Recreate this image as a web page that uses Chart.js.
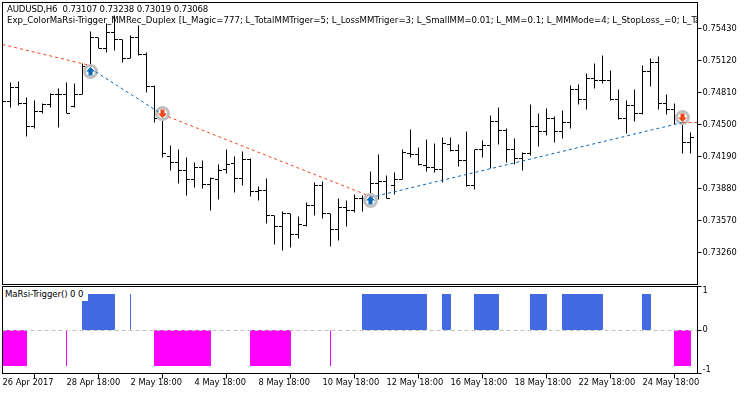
<!DOCTYPE html>
<html>
<head>
<meta charset="utf-8">
<script src="https://cdn.jsdelivr.net/npm/chart.js@4"></script>
<style>
  body {margin: 0; background: #fff; width: 750px; height: 394px; overflow: hidden; position: relative;}
  canvas {display: block;}
  .note {position: absolute; font: 9.55px/12px "DejaVu Sans Condensed", "DejaVu Sans", sans-serif; color: #000; white-space: pre; overflow: hidden;}
</style>
</head>
<body>
<canvas id="price" width="750" height="285"></canvas>
<canvas id="signal" width="750" height="109"></canvas>
<div class="note" style="left:7px;top:3px;width:690px;letter-spacing:-0.15px">AUDUSD,H6  0.73107 0.73238 0.73019 0.73068</div>
<div class="note" style="left:7px;top:14px;width:690px">Exp_ColorMaRsi-Trigger_MMRec_Duplex [L_Magic=777; L_TotalMMTriger=5; L_LossMMTriger=3; L_SmallMM=0.01; L_MM=0.1; L_MMMode=4; L_StopLoss_=0; L_TakeProfit_=0</div>
<div class="note" style="left:3px;top:288px;width:83px;height:13px;padding-left:2px;background:#fff;letter-spacing:-0.1px">MaRsi-Trigger() 0 0</div>
<script>
// H6 bars, one per array slot
const highs = [.74781,.74907,.74917,.74761,.74732,.74703,.74800,.74849,.74907,.74897,.75091,.75401,.75343,.75478,.75556,.75323,.75362,.75459,.75197,.74878,.74616,.74297,.74258,.74180,.74132,.74151,.73987,.74113,.74258,.74190,.74239,.74171,.73900,.73977,.73619,.73657,.73638,.73609,.73745,.73938,.73948,.73638,.73783,.73764,.73822,.73812,.74045,.74210,.74006,.74035,.74258,.74452,.74277,.74355,.74316,.74374,.74374,.74306,.74432,.74258,.74345,.74587,.74665,.74461,.74365,.74229,.74694,.74607,.74655,.74578,.74636,.74878,.74887,.74994,.75091,.75168,.75023,.74839,.74732,.74839,.75071,.75139,.75159,.74791,.74703,.74616,.74423];
const lows = [.74655,.74665,.74684,.74384,.74461,.74607,.74665,.74471,.74607,.74665,.74791,.75023,.75236,.75197,.75217,.75101,.75139,.75168,.74810,.74519,.74180,.74055,.73929,.73812,.73890,.73880,.73667,.73774,.74026,.73841,.73909,.73803,.73764,.73541,.73338,.73280,.73309,.73396,.73512,.73619,.73590,.73319,.73377,.73512,.73648,.73657,.73735,.73774,.73783,.73822,.73967,.74180,.74103,.74045,.74035,.73938,.74239,.74093,.73900,.73870,.74180,.74074,.74306,.74132,.74113,.74055,.74200,.74287,.74394,.74326,.74365,.74461,.74694,.74645,.74849,.74897,.74732,.74548,.74413,.74529,.74597,.74868,.74645,.74597,.74500,.74219,.74219];
const opens = [.74771,.74723,.74858,.74703,.74481,.74626,.74694,.74791,.74791,.74674,.74791,.75062,.75343,.75236,.75391,.75323,.75139,.75343,.75178,.74868,.74558,.74190,.74132,.74055,.73967,.74084,.73919,.73967,.74064,.74122,.73977,.74161,.73851,.73861,.73619,.73512,.73638,.73435,.73522,.73716,.73909,.73638,.73483,.73696,.73667,.73783,.73783,.73929,.73948,.73909,.73967,.74219,.74210,.74103,.74084,.74064,.74306,.74248,.74151,.73909,.74258,.74297,.74529,.74442,.74258,.74171,.74219,.74481,.74432,.74558,.74432,.74519,.74839,.74742,.74946,.74926,.74926,.74742,.74558,.74684,.74607,.75013,.75101,.74703,.74645,.74568,.74326];
const closes = [.74723,.74858,.74703,.74481,.74626,.74694,.74791,.74791,.74607,.74791,.75062,.75343,.75236,.75391,.75323,.75139,.75343,.75178,.74868,.74558,.74219,.74132,.74055,.73967,.74084,.73919,.73977,.74055,.74113,.73977,.74161,.73851,.73861,.73619,.73512,.73638,.73435,.73531,.73716,.73909,.73638,.73483,.73696,.73667,.73783,.73783,.73929,.73948,.73783,.73967,.74229,.74210,.74113,.74084,.74064,.74316,.74248,.74151,.73909,.74258,.74297,.74529,.74442,.74258,.74171,.74219,.74481,.74432,.74558,.74432,.74519,.74839,.74742,.74946,.74926,.74926,.74742,.74558,.74684,.74607,.75013,.75101,.74703,.74645,.74568,.74326,.74374];

// trade lines, null breaks a leg
const redBars = [0, 11, null, 20, 46, null, 85, 87];
const redPrices = [.75275, .75071, null, .74597, .73803, null, .74519, .74519];
const blueBars = [11, 20, null, 46, 85];
const bluePrices = [.75042, .74597, null, .73793, .74519];

const ringBars = [11, 20, 46, 85];
const ringPrices = [.75013, .74607, .73764, .74568];
const buyBars = [11, 46];
const buyPrices = [.75013, .73764];
const sellBars = [20, 85];
const sellPrices = [.74607, .74568];

const priceTicks = [.7543, .7512, .7481, .745, .7419, .7388, .7357, .7326];

// indicator, 1 up, -1 down, 0 nothing
const signal = [-1,-1,-1,-1,0,0,0,0,-1,0,1,1,1,1,1,0,1,0,0,-1,-1,-1,-1,-1,-1,-1,-1,0,0,0,0,-1,-1,-1,-1,-1,-1,0,0,0,0,-1,0,0,0,1,1,1,1,1,1,1,1,1,0,1,1,0,0,1,1,1,1,0,0,0,1,1,1,0,1,1,1,1,1,1,0,0,0,0,1,1,0,0,-1,-1,-1];
const signalTicks = [-1.2083, 0, 1.2083];
const signalLabels = [['-1', ''], '0', ['', '1']];

const dateTicks = [0, 8, 16, 24, 32, 40, 48, 56, 64, 72, 80];
const dateLabels = ['26 Apr 2017', '28 Apr 18:00', '2 May 18:00', '4 May 18:00', '8 May 18:00', '10 May 18:00', '12 May 18:00', '16 May 18:00', '18 May 18:00', '22 May 18:00', '24 May 18:00'];

const FONT = {family: '"DejaVu Sans Condensed", "DejaVu Sans", sans-serif', size: 9.2, lineHeight: 0.87};
const RED = '#f0461c', BLUE = '#0a68b4';
const lastX = 86.875;

Chart.defaults.animation = false;
Chart.defaults.color = '#000';

function pts(xs, ys){
  return xs.map((x, i) => ({x: x, y: ys[i]}));
}

function arrow(color, down){
  let c = document.createElement('canvas');
  c.width = c.height = 9;
  let g = c.getContext('2d');
  if(down){ g.translate(0, 9); g.scale(1, -1); }
  g.fillStyle = color;
  g.beginPath();
  [[4.5,0],[9,4.5],[6.5,4.5],[6.5,8.5],[2.5,8.5],[2.5,4.5],[0,4.5]].forEach(p => g.lineTo(p[0], p[1]));
  g.fill();
  return c;
}

// open and close ticks, on whole pixels so they stay sharp
const barTicks = {
  id: 'barTicks',
  beforeDatasetsDraw(chart){
    let {ctx, chartArea: a, scales: {x, y}} = chart;
    ctx.save();
    ctx.beginPath();
    ctx.rect(a.left, a.top, a.width, a.height);
    ctx.clip();
    ctx.fillStyle = '#000';
    opens.forEach((o, i) => {
      let px = Math.floor(x.getPixelForValue(i));
      ctx.fillRect(px - 3, Math.floor(y.getPixelForValue(o)), 3, 1);
      ctx.fillRect(px + 1, Math.floor(y.getPixelForValue(closes[i])), 3, 1);
    });
    ctx.restore();
  }
};

const frame = {
  id: 'frame',
  afterDraw(chart){
    let {ctx, chartArea: a} = chart;
    ctx.save();
    ctx.strokeStyle = '#000';
    ctx.lineWidth = 1;
    ctx.strokeRect(a.left, a.top, a.width, a.height);
    ctx.restore();
  }
};

new Chart(document.getElementById('price').getContext('2d'), {
  type: 'bar',
  plugins: [barTicks, frame],
  data: {
    datasets: [
      {type: 'line', data: pts(buyBars, buyPrices), showLine: false, pointStyle: arrow(BLUE, false), order: 0},
      {type: 'line', data: pts(sellBars, sellPrices), showLine: false, pointStyle: arrow(RED, true), order: 0},
      {type: 'line', data: pts(redBars, redPrices), borderColor: RED, borderWidth: 1, borderDash: [3, 3], pointRadius: 0, order: 1},
      {type: 'line', data: pts(blueBars, bluePrices), borderColor: BLUE, borderWidth: 1, borderDash: [3, 3], pointRadius: 0, order: 1},
      {type: 'line', data: pts(ringBars, ringPrices), showLine: false, pointStyle: 'circle', pointRadius: 6, pointBorderWidth: 3, pointBorderColor: '#c0c0c0', pointBackgroundColor: '#fff', order: 2},
      {data: highs.map((h, i) => ({x: i, y: [lows[i], h]})), backgroundColor: '#000', barThickness: 1, inflateAmount: 0, grouped: false, order: 3}
    ]
  },
  options: {
    responsive: false,
    layout: {autoPadding: false, padding: {left: 2.5, top: 2.5, right: 0, bottom: 0.5}},
    plugins: {legend: {display: false}, tooltip: {enabled: false}},
    scales: {
      x: {type: 'linear', display: false, offset: false, min: 0, max: lastX},
      y: {
        position: 'right',
        min: 0.7295,
        max: 0.75681875,
        border: {display: false},
        grid: {drawOnChartArea: false, tickLength: 4, tickColor: '#000'},
        afterBuildTicks: s => { s.ticks = priceTicks.map(v => ({value: v})); },
        afterFit: s => { s.width = 52.5; s.paddingTop = 0; s.paddingBottom = 0; },
        ticks: {font: FONT, padding: 1, callback: v => v.toFixed(5)}
      }
    }
  }
});

new Chart(document.getElementById('signal').getContext('2d'), {
  type: 'bar',
  plugins: [frame],
  data: {
    datasets: [
      {data: pts(signal.map((v, i) => i), signal.map(v => v === 1 ? 1 : null)), backgroundColor: '#4169e1', barThickness: 1, inflateAmount: 0, grouped: false},
      {data: pts(signal.map((v, i) => i), signal.map(v => v === -1 ? -1 : null)), backgroundColor: '#ff00ff', barThickness: 1, inflateAmount: 0, grouped: false},
      {type: 'line', data: pts(signal.map((v, i) => i), signal.map(v => v === 1 ? 1 : null)), fill: 'origin', backgroundColor: '#4169e1', borderWidth: 0, pointRadius: 0},
      {type: 'line', data: pts(signal.map((v, i) => i), signal.map(v => v === -1 ? -1 : null)), fill: 'origin', backgroundColor: '#ff00ff', borderWidth: 0, pointRadius: 0}
    ]
  },
  options: {
    responsive: false,
    layout: {autoPadding: false, padding: {left: 2.5, top: 1.5, right: 0, bottom: 0}},
    plugins: {legend: {display: false}, tooltip: {enabled: false}},
    scales: {
      x: {
        type: 'linear',
        offset: false,
        min: 0,
        max: lastX,
        border: {display: false},
        grid: {drawOnChartArea: false, tickLength: 5, tickColor: '#000'},
        afterBuildTicks: s => { s.ticks = dateTicks.map(v => ({value: v})); },
        afterFit: s => { s.height = 20.5; s.paddingLeft = 0; s.paddingRight = 0; },
        ticks: {font: FONT, align: 'start', autoSkip: false, maxRotation: 0, padding: 0,
          callback: (v, i) => dateLabels[i]}
      },
      y: {
        position: 'right',
        min: signalTicks[0],
        max: signalTicks[2],
        border: {display: false, dash: [4, 3]},
        grid: {
          z: 1,
          color: c => c.tick && c.tick.value === 0 ? '#c0c0c0' : 'transparent',
          tickLength: 4,
          tickColor: '#000'
        },
        afterBuildTicks: s => { s.ticks = signalTicks.map(v => ({value: v})); },
        afterFit: s => { s.width = 52.5; s.paddingTop = 0; s.paddingBottom = 0; },
        ticks: {font: FONT, padding: 1, callback: (v, i) => signalLabels[i]}
      }
    }
  }
});
</script>
</body>
</html>
